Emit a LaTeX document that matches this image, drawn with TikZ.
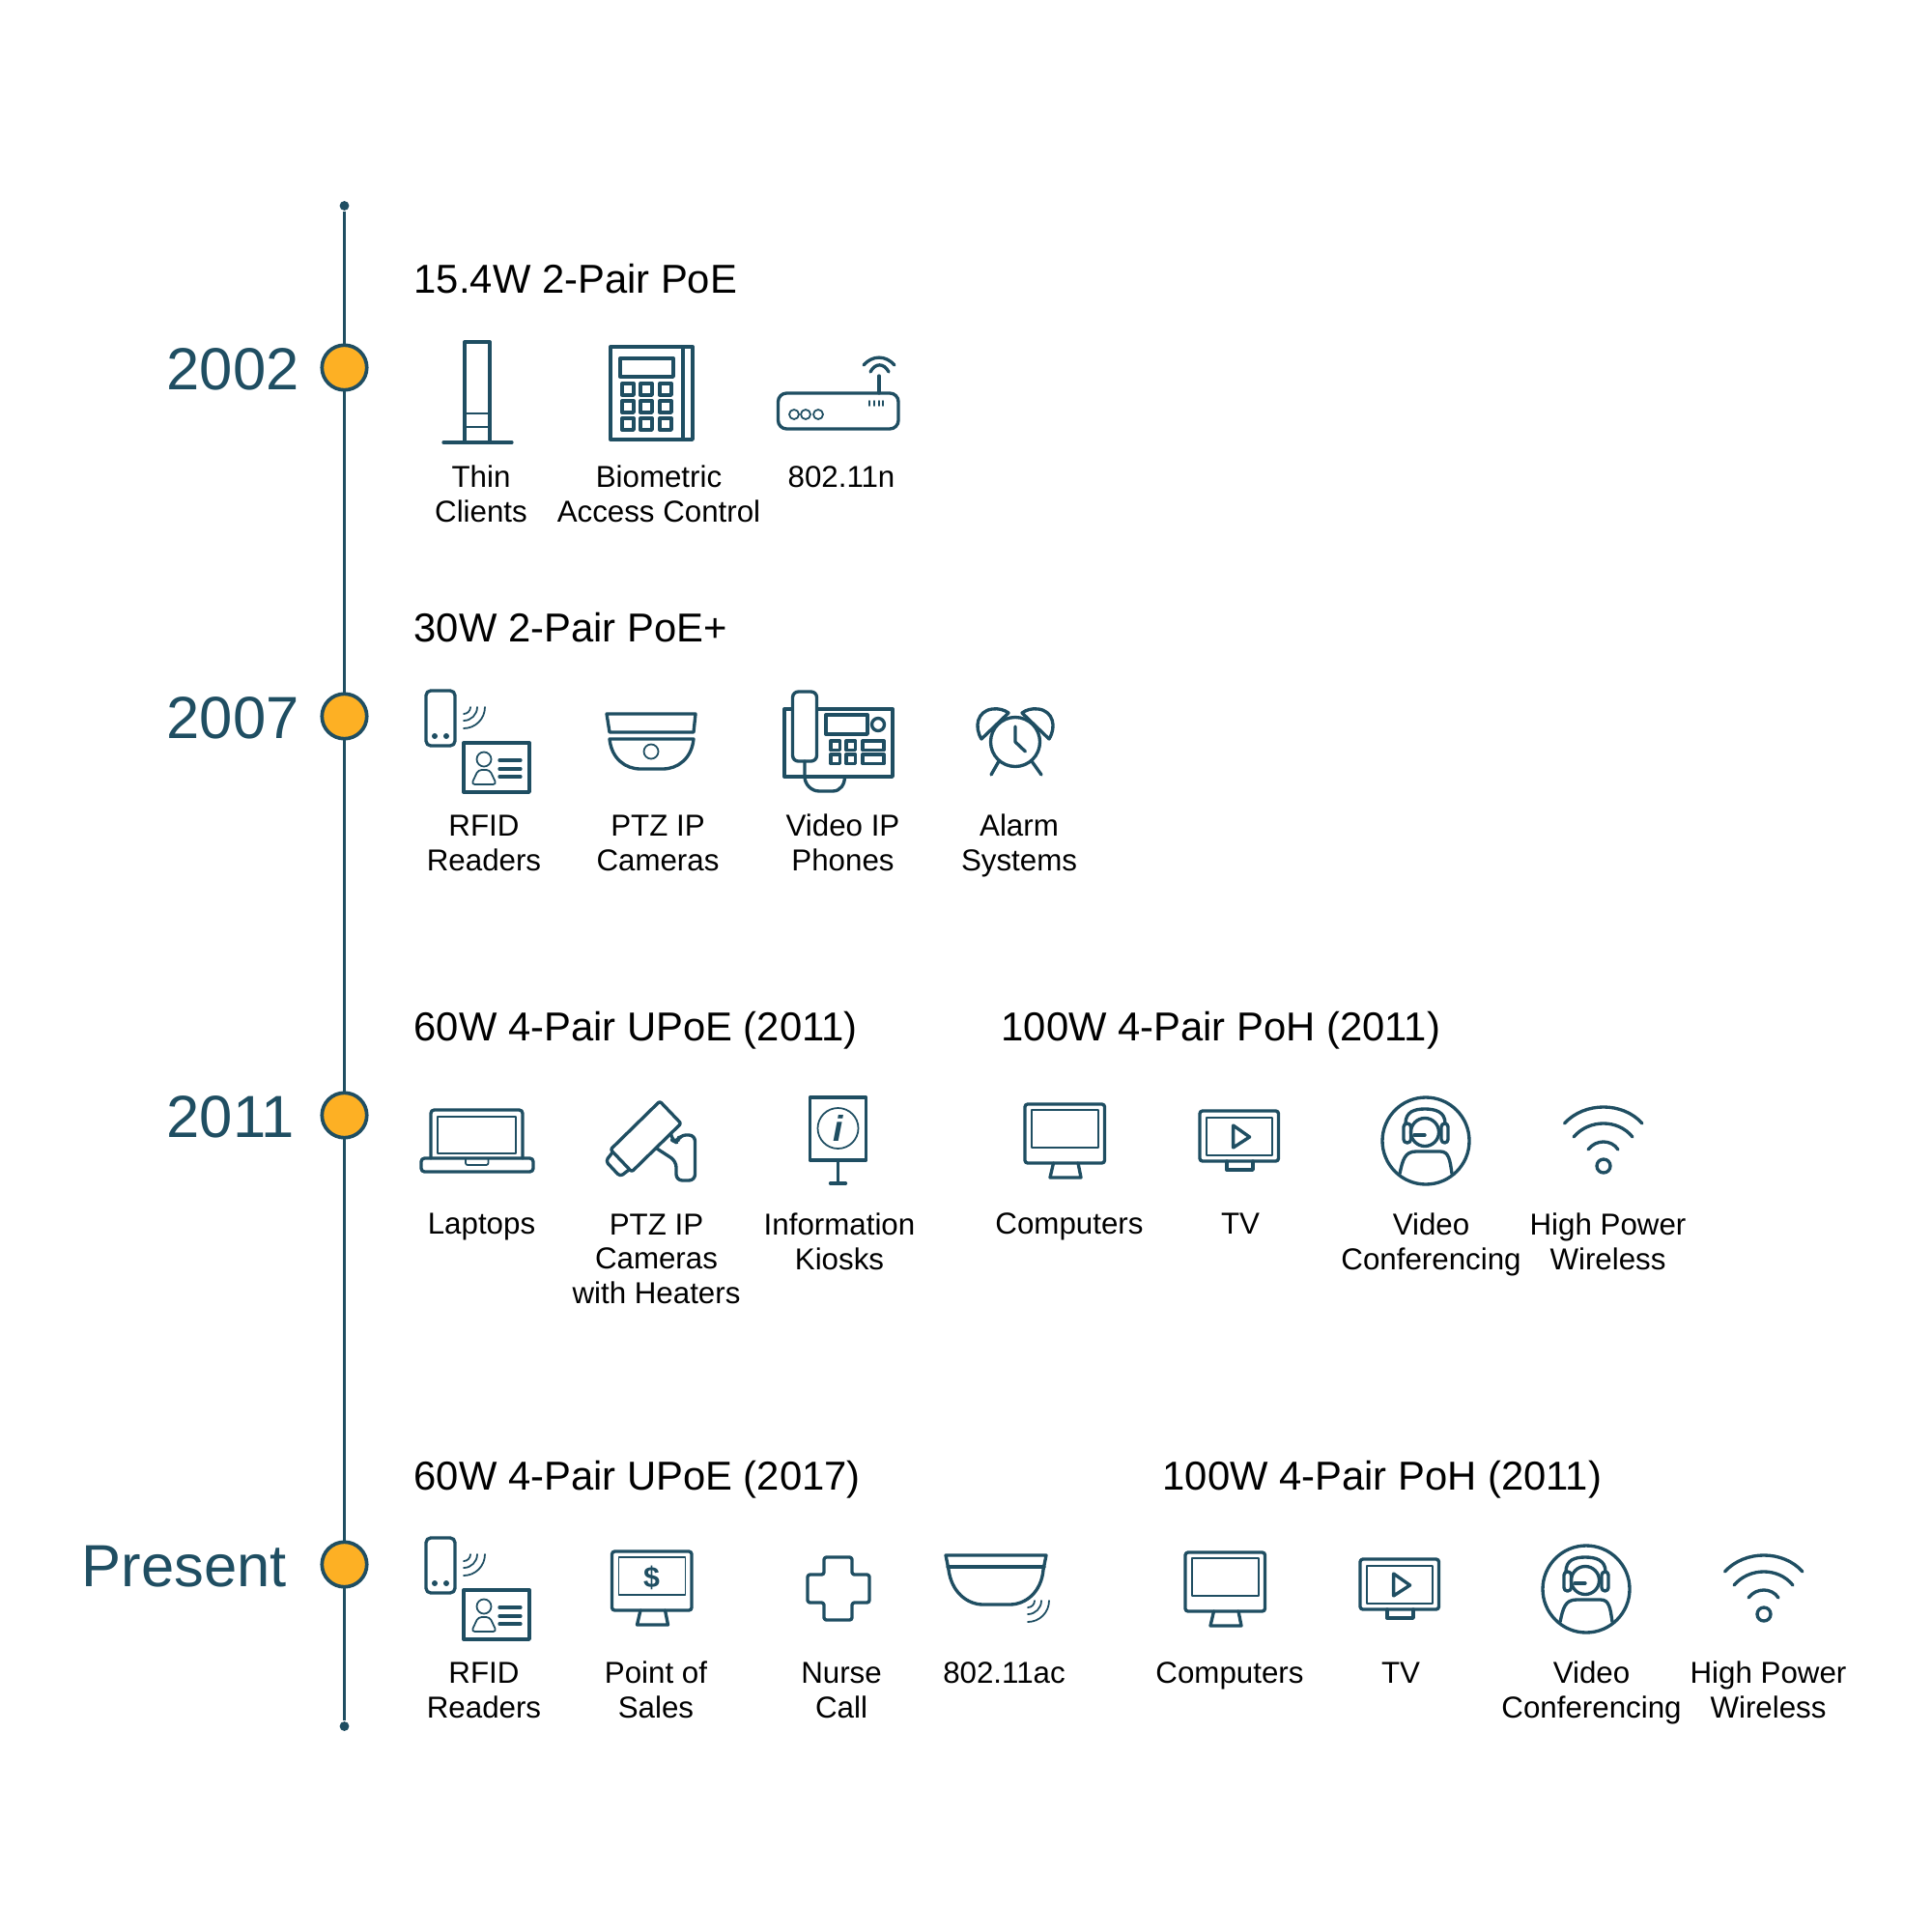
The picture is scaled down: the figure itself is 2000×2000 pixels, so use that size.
\documentclass[tikz,border=0pt]{standalone}
\usepackage{fontspec}
\setmainfont{Liberation Sans}
\usepackage{xcolor}
\usepackage{tikz}
\definecolor{spineteal}{RGB}{31, 78, 98}
\definecolor{dotamber}{RGB}{253, 176, 36}

% repeated device icons, drawn from their top left corner (or centre)
\tikzset{
  iconline/.style={draw=spineteal, line width=0.95pt, line join=round, line cap=round},
  iconthin/.style={draw=spineteal, line width=0.5pt, line join=round, line cap=round},
  sigwaves/.pic={
    \foreach \r in {7,14,22}
      \draw[iconthin] (0,\r) .. controls (.55*\r,\r) and (\r,.55*\r) .. (\r,0);
  },
  rfidicon/.pic={
    \draw[iconline, rounded corners=1.4pt] (0,0) rectangle (30,57);
    \fill[spineteal] (9,47) circle (3) (21,47) circle (3);
    \pic at (39,17) {sigwaves};
    \draw[iconline] (39,54) rectangle (107,105);
    \draw[iconthin] (60,71) circle (7.5);
    \draw[iconthin, rounded corners=1pt] (47,97) -- (54,82) -- (66,82) -- (73,97) -- cycle;
    \foreach \cy in {72,81,89}
      \draw[iconline] (76,\cy) -- (98,\cy);
  },
  screenicon/.pic={
    \draw[iconline, rounded corners=0.8pt] (0,0) rectangle (82.5,61);
    \draw[iconthin] (7,6) rectangle (76,45);
    \draw[iconline] (29.5,61) -- (26,76) -- (58,76) -- (55,61);
  },
  tvicon/.pic={
    \draw[iconline, rounded corners=0.8pt] (0,0) rectangle (81.5,52);
    \draw[iconthin] (7,7) rectangle (75,46);
    \draw[iconline] (28,52) -- (28,61) -- (55,61) -- (55,52);
    \draw[iconline] (34.6,15) -- (51.6,27) -- (34.6,38) -- cycle;
  },
  confericon/.pic={
    \draw[iconline] (0,0) circle (45);
    \draw[iconline] (-1,-9) circle (14.5);
    \draw[iconline] (-21,-18) .. controls (-21,-30) and (-12,-33) .. (-1,-33) .. controls (10,-33) and (20,-30) .. (20,-18);
    \draw[iconline, rounded corners=1pt] (-23,-18) rectangle (-15.5,2);
    \draw[iconline, rounded corners=1pt] (16,-18) rectangle (23,2);
    \draw[iconline] (-12,-6) -- (-1,-6);
    \draw[iconline] (-27,34) .. controls (-24,20) and (-22,11) .. (-10,11) -- (15,11) .. controls (24,11) and (25,20) .. (27,34);
  },
  wifiicon/.pic={
    \draw[iconline] (0,0) circle (7);
    \draw[iconline] (-40.5,-44) .. controls (-20,-66.7) and (20,-66.7) .. (40,-44);
    \draw[iconline] (-31,-30) .. controls (-15,-48.7) and (15,-48.7) .. (30,-30);
    \draw[iconline] (-16,-17) .. controls (-8,-27.7) and (8,-27.7) .. (15,-17);
  }
}

\begin{document}
\begin{tikzpicture}[
  x=0.01cm, y=-0.01cm,
  spine/.style={draw=spineteal, line width=1.05pt},
  spineend/.style={circle, fill=spineteal, inner sep=0pt, minimum size=2.8pt},
  yeardot/.style={circle, draw=spineteal, fill=dotamber, line width=1.05pt, inner sep=0pt, minimum size=13.2pt},
  yeartext/.style={anchor=base west, inner sep=0pt, text=spineteal, font=\fontsize{17.5}{20}\selectfont},
  rowtitle/.style={anchor=base west, inner sep=0pt, font=\fontsize{11.88}{14}\selectfont},
  devlabel/.style={anchor=base, inner sep=0pt, align=center, font=\fontsize{8.9}{9.96}\selectfont}
]
\useasboundingbox (0,0) rectangle (2000,2000);

% Timeline
\node[spineend] (spinetop) at (356.5,213) {};
\node[spineend] (spinebot) at (356.5,1787) {};
\draw[spine] (spinetop) -- (spinebot);
\node[yeardot] (dotA) at (356.5,380.5) {};
\node[yeardot] (dotB) at (356.5,741.5) {};
\node[yeardot] (dotC) at (356.5,1154.5) {};
\node[yeardot] (dotD) at (356.5,1619.5) {};
\node[yeartext] (yearA) at (172,403) {2002};
\node[yeartext] (yearB) at (172,764) {2007};
\node[yeartext] (yearC) at (172,1177) {2011};
\node[yeartext] (yearD) at (84,1642) {Present};

% Row titles
\node[rowtitle] (titleA) at (428,303) {15.4W 2-Pair PoE};
\node[rowtitle] (titleB) at (428,664) {30W 2-Pair PoE+};
\node[rowtitle] (titleC) at (428,1077) {60W 4-Pair UPoE (2011)};
\node[rowtitle] (titleD) at (1036,1077) {100W 4-Pair PoH (2011)};
\node[rowtitle] (titleE) at (428,1542) {60W 4-Pair UPoE (2017)};
\node[rowtitle] (titleF) at (1203,1542) {100W 4-Pair PoH (2011)};

% Row 1: icons
\draw[iconline] (481,354) rectangle (507,458);
\draw[iconthin] (481,428) -- (507,428) (481,442) -- (507,442);
\draw[iconline] (459,458) -- (530,458);

\draw[iconline] (632,359) rectangle (717,455);
\draw[iconline] (707,359) -- (707,455);
\draw[iconline] (642,371) rectangle (697,390);
\foreach \cx in {650,669,689}
  \foreach \cy in {403,421,439}
    \draw[iconline] (\cx-6,\cy-6) rectangle ++(12,12);

\draw[iconline, rounded corners=2.5pt] (805.5,407) rectangle (930,444);
\draw[iconline] (910,389) -- (910,407);
\draw[iconline] (894,378) .. controls (903,367.5) and (917,367.5) .. (926,378);
\draw[iconline] (901,385) .. controls (906,375.5) and (915,375.5) .. (920,385);
\foreach \cx in {822,834,847}
  \draw[iconthin] (\cx,429) circle (5);
\foreach \cx in {900,905,910,914}
  \draw[iconthin] (\cx,415) -- (\cx,420);

% two lines stand on the second baseline
\node[devlabel] (thin) at (498,540) {Thin\\Clients};
\node[devlabel] (biometric) at (682,540) {Biometric\\Access Control};
\node[devlabel] (apN) at (871,504) {802.11n};

% Row 2: icons
\pic (rfidA) at (441,715) {rfidicon};

\draw[iconline] (628,739) -- (720,739) -- (718,758) -- (631,758) -- cycle;
\draw[iconline] (631,765) -- (718,765) .. controls (716,785) and (702,796) .. (686,796) -- (663,796) .. controls (647,796) and (633,785) .. (631,765) -- cycle;
\draw[iconthin] (674,778) circle (7.5);

\draw[iconline] (812,734) rectangle (924,804);
\draw[iconline, fill=white, rounded corners=1.7pt] (820.5,716) rectangle (845.5,788);
\draw[iconline] (833,788) -- (833,804) .. controls (833,812) and (840,819) .. (848,819) -- (862,819) .. controls (870,819) and (874.5,812) .. (874.5,804);
\draw[iconline] (855,740) rectangle (898,760);
\draw[iconline] (909,750) circle (6.5);
\foreach \cy in {767,781}
  {
    \draw[iconline] (860,\cy) rectangle ++(9.5,9.5);
    \draw[iconline] (876,\cy) rectangle ++(9.5,9.5);
    \draw[iconline] (893,\cy) rectangle ++(22,9.5);
  }

\draw[iconline] (1051,768) circle (25.5);
\draw[iconline] (1051,752) -- (1051,768) -- (1061.5,778);
\draw[iconline] (1034,788) -- (1026,802) (1068,788) -- (1078,802);
\draw[iconline] (1016,765) .. controls (1008,752) and (1012,736) .. (1027,734) .. controls (1034,733) and (1040,735) .. (1044,738) -- cycle;
\draw[iconline] (1086,765) .. controls (1094,752) and (1090,736) .. (1075,734) .. controls (1068,733) and (1062,735) .. (1058,738) -- cycle;

\node[devlabel] (rfidlabelA) at (501,901) {RFID\\Readers};
\node[devlabel] (ptz) at (681,901) {PTZ IP\\Cameras};
\node[devlabel] (voip) at (872.5,901) {Video IP\\Phones};
\node[devlabel] (alarm) at (1055,901) {Alarm\\Systems};

% Row 3: icons
\draw[iconline, rounded corners=1pt] (446,1199) -- (446,1149) -- (541,1149) -- (541,1199);
\draw[iconthin] (453,1156) rectangle (534,1194);
\draw[iconline, rounded corners=1pt] (436,1199) rectangle (552,1213);
\draw[iconthin, rounded corners=0.6pt] (482,1199) -- (482,1206) -- (505.5,1206) -- (505.5,1199);

\draw[iconline, rounded corners=0.6pt] (683,1140) -- (705,1163) -- (654,1213) -- (632,1190) -- cycle;
\draw[iconline, rounded corners=1pt] (634,1193) -- (627,1202) -- (642,1218) -- (651,1211);
\draw[iconline, rounded corners=1.8pt] (694.6,1173) -- (695,1180) -- (701,1183) -- (703.6,1175) -- (719.5,1175) -- (719.5,1222) -- (700,1222) -- (700,1202) -- (680,1189);

\draw[iconline] (838.5,1136) rectangle (896.5,1201);
\draw[iconthin] (867.5,1168) circle (21);
\node[inner sep=0pt, text=spineteal, font=\fontsize{10.6}{12}\selectfont\bfseries\itshape] (infomark) at (867.5,1168) {i};
\draw[iconline] (867.5,1201) -- (867.5,1225);
\draw[iconline] (859.5,1225) -- (875.5,1225);

\pic (screenA) at (1061,1143) {screenicon};
\pic (tvA) at (1242,1150) {tvicon};
\pic (conferA) at (1476,1181) {confericon};
\pic (wifiA) at (1660,1207) {wifiicon};

\node[devlabel] (laptops) at (498.5,1277.5) {Laptops};
\node[devlabel] (ptzheat) at (679.5,1349) {PTZ IP\\Cameras\\with Heaters};
\node[devlabel] (kiosk) at (869,1314) {Information\\Kiosks};
\node[devlabel] (screenlabelA) at (1107,1277.5) {Computers};
\node[devlabel] (tvlabelA) at (1284,1277.5) {TV};
\node[devlabel] (conferlabelA) at (1481.5,1314) {Video\\Conferencing};
\node[devlabel] (wifilabelA) at (1664.5,1314) {High Power\\Wireless};

% Row 4: icons
\pic (rfidB) at (441,1592) {rfidicon};

\pic (screenpos) at (633.5,1606) {screenicon};
\node[inner sep=0pt, text=spineteal, font=\fontsize{8.6}{10}\selectfont\bfseries] (dollar) at (674.5,1633) {\$};

\draw[iconline, rounded corners=0.7pt] (853,1612) -- (882,1612) -- (882,1630) -- (900,1630) -- (900,1659) -- (882,1659) -- (882,1677) -- (853,1677) -- (853,1659) -- (836,1659) -- (836,1630) -- (853,1630) -- cycle;

\draw[iconline] (979,1610) -- (1083,1610) -- (1080,1625) .. controls (1078,1648) and (1062,1661) .. (1045,1661) -- (1018,1661) .. controls (1001,1661) and (985,1648) .. (982,1625) -- cycle;
\draw[iconline] (981,1622) -- (1081,1622);
\pic (domewaves) at (1064,1657) {sigwaves};

\pic (screenB) at (1227,1607) {screenicon};
\pic (tvB) at (1408,1614) {tvicon};
\pic (conferB) at (1642,1645) {confericon};
\pic (wifiB) at (1826,1671) {wifiicon};

\node[devlabel] (rfidlabelB) at (501,1778) {RFID\\Readers};
\node[devlabel] (pos) at (679,1778) {Point of\\Sales};
\node[devlabel] (nurse) at (871,1778) {Nurse\\Call};
\node[devlabel] (apAC) at (1039.5,1742) {802.11ac};
\node[devlabel] (screenlabelB) at (1273,1742) {Computers};
\node[devlabel] (tvlabelB) at (1450,1742) {TV};
\node[devlabel] (conferlabelB) at (1647.5,1778) {Video\\Conferencing};
\node[devlabel] (wifilabelB) at (1830.5,1778) {High Power\\Wireless};

\end{tikzpicture}
\end{document}
